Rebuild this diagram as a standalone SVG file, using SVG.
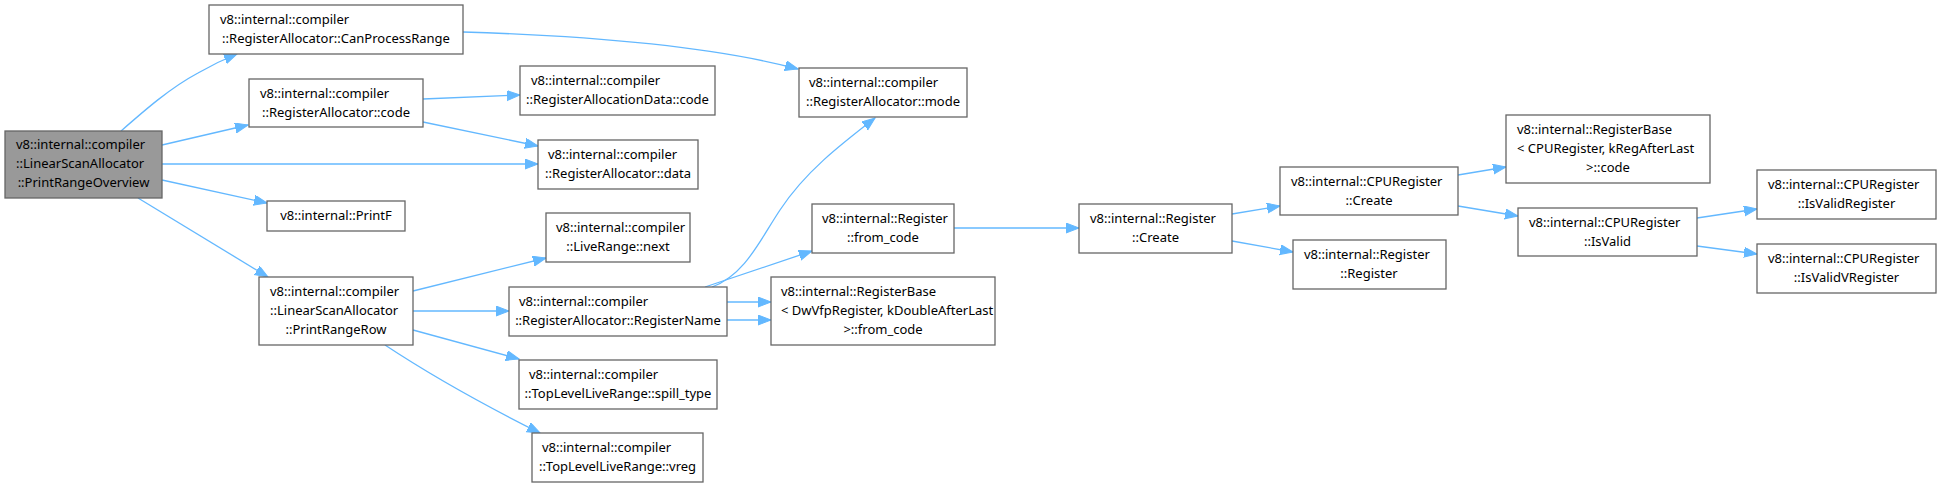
<svg xmlns="http://www.w3.org/2000/svg" width="1941" height="487" viewBox="0 0 1941 487">
<style>
.n rect{fill:#ffffff;stroke:#666666;stroke-width:1.3}
.n.root rect{fill:#999999}
.n text{font-family:"Noto Sans","Open Sans","DejaVu Sans",sans-serif;font-size:13px;fill:#000000}
.n text.c{text-anchor:middle}
#edges path{fill:none;stroke:#63b8ff;stroke-width:1.3;marker-end:url(#ah)}
</style>
<defs>
<marker id="ah" markerUnits="userSpaceOnUse" markerWidth="14" markerHeight="11" refX="13" refY="5" orient="auto">
<path d="M0,0 L13,5 L0,10 z" fill="#63b8ff" stroke="#63b8ff" stroke-width="1"/>
</marker>
</defs>
<rect width="1941" height="487" fill="#ffffff"/>
<g id="edges">
<path d="M121,131 C145,110 170,88 198,73 C210,66 222,60 237,54"/>
<path d="M162,145 L248,125"/>
<path d="M162,164 L538,164"/>
<path d="M162,180 L267,203"/>
<path d="M138,198 Q200,236 268,277"/>
<path d="M463,32 C560,35 700,43 798,69"/>
<path d="M423,99 L520,95"/>
<path d="M423,122 L538,146"/>
<path d="M413,291 L546,258"/>
<path d="M413,311 L509,311"/>
<path d="M413,330 L519,359"/>
<path d="M385,345 Q450,388 540,433"/>
<path d="M712,287 C745,275 760,240 780,210 C805,172 840,145 875,118"/>
<path d="M705,287 L812,251"/>
<path d="M727,302 L771,302"/>
<path d="M727,320 L771,320"/>
<path d="M954,228 L1079,228"/>
<path d="M1232,214 L1280,206"/>
<path d="M1232,241 L1293,252"/>
<path d="M1458,175 L1506,167"/>
<path d="M1458,206 L1518,216"/>
<path d="M1697,218 L1757,209"/>
<path d="M1697,246 L1757,254"/>
</g>
<g id="n1" class="n root"><rect x="5" y="131" width="157" height="67"/><text x="16" y="149">v8::internal::compiler</text><text x="16" y="168">::LinearScanAllocator</text><text class="c" x="83.5" y="187">::PrintRangeOverview</text></g>
<g id="n2" class="n"><rect x="209" y="5" width="254" height="49"/><text x="220" y="24">v8::internal::compiler</text><text class="c" x="336" y="43">::RegisterAllocator::CanProcessRange</text></g>
<g id="n3" class="n"><rect x="249" y="79" width="174" height="48"/><text x="260" y="98">v8::internal::compiler</text><text class="c" x="336" y="117">::RegisterAllocator::code</text></g>
<g id="n4" class="n"><rect x="267" y="201" width="138" height="30"/><text class="c" x="336" y="220">v8::internal::PrintF</text></g>
<g id="n5" class="n"><rect x="259" y="277" width="154" height="68"/><text x="270" y="295.5">v8::internal::compiler</text><text x="270" y="314.5">::LinearScanAllocator</text><text class="c" x="336" y="333.5">::PrintRangeRow</text></g>
<g id="n6" class="n"><rect x="520" y="66" width="195" height="49"/><text x="531" y="85">v8::internal::compiler</text><text class="c" x="617.5" y="104">::RegisterAllocationData::code</text></g>
<g id="n7" class="n"><rect x="538" y="140" width="160" height="49"/><text x="548" y="159">v8::internal::compiler</text><text class="c" x="618" y="178">::RegisterAllocator::data</text></g>
<g id="n8" class="n"><rect x="546" y="213" width="144" height="49"/><text x="556" y="232">v8::internal::compiler</text><text class="c" x="618" y="251">::LiveRange::next</text></g>
<g id="n9" class="n"><rect x="509" y="287" width="218" height="49"/><text x="519" y="306">v8::internal::compiler</text><text class="c" x="618" y="325">::RegisterAllocator::RegisterName</text></g>
<g id="n10" class="n"><rect x="519" y="360" width="198" height="49"/><text x="529" y="379">v8::internal::compiler</text><text class="c" x="618" y="398">::TopLevelLiveRange::spill_type</text></g>
<g id="n11" class="n"><rect x="532" y="433" width="171" height="49"/><text x="542" y="452">v8::internal::compiler</text><text class="c" x="617.5" y="471">::TopLevelLiveRange::vreg</text></g>
<g id="n12" class="n"><rect x="799" y="68" width="168" height="49"/><text x="809" y="87">v8::internal::compiler</text><text class="c" x="883" y="106">::RegisterAllocator::mode</text></g>
<g id="n13" class="n"><rect x="812" y="204" width="142" height="49"/><text x="822" y="223">v8::internal::Register</text><text class="c" x="883" y="242">::from_code</text></g>
<g id="n14" class="n"><rect x="771" y="277" width="224" height="68"/><text x="781" y="295.5">v8::internal::RegisterBase</text><text x="781" y="314.5">&lt; DwVfpRegister, kDoubleAfterLast</text><text class="c" x="883" y="333.5">&gt;::from_code</text></g>
<g id="n15" class="n"><rect x="1079" y="204" width="153" height="49"/><text x="1090" y="223">v8::internal::Register</text><text class="c" x="1155.5" y="242">::Create</text></g>
<g id="n16" class="n"><rect x="1280" y="167" width="178" height="48"/><text x="1291" y="186">v8::internal::CPURegister</text><text class="c" x="1369" y="205">::Create</text></g>
<g id="n17" class="n"><rect x="1293" y="240" width="153" height="49"/><text x="1304" y="259">v8::internal::Register</text><text class="c" x="1369" y="278">::Register</text></g>
<g id="n18" class="n"><rect x="1506" y="115" width="204" height="68"/><text x="1517" y="133.5">v8::internal::RegisterBase</text><text x="1517" y="152.5">&lt; CPURegister, kRegAfterLast</text><text class="c" x="1608" y="171.5">&gt;::code</text></g>
<g id="n19" class="n"><rect x="1518" y="208" width="179" height="48"/><text x="1529" y="227">v8::internal::CPURegister</text><text class="c" x="1607.5" y="246">::IsValid</text></g>
<g id="n20" class="n"><rect x="1757" y="170" width="179" height="49"/><text x="1768" y="189">v8::internal::CPURegister</text><text class="c" x="1846.5" y="208">::IsValidRegister</text></g>
<g id="n21" class="n"><rect x="1757" y="244" width="179" height="49"/><text x="1768" y="263">v8::internal::CPURegister</text><text class="c" x="1846.5" y="282">::IsValidVRegister</text></g>
</svg>
